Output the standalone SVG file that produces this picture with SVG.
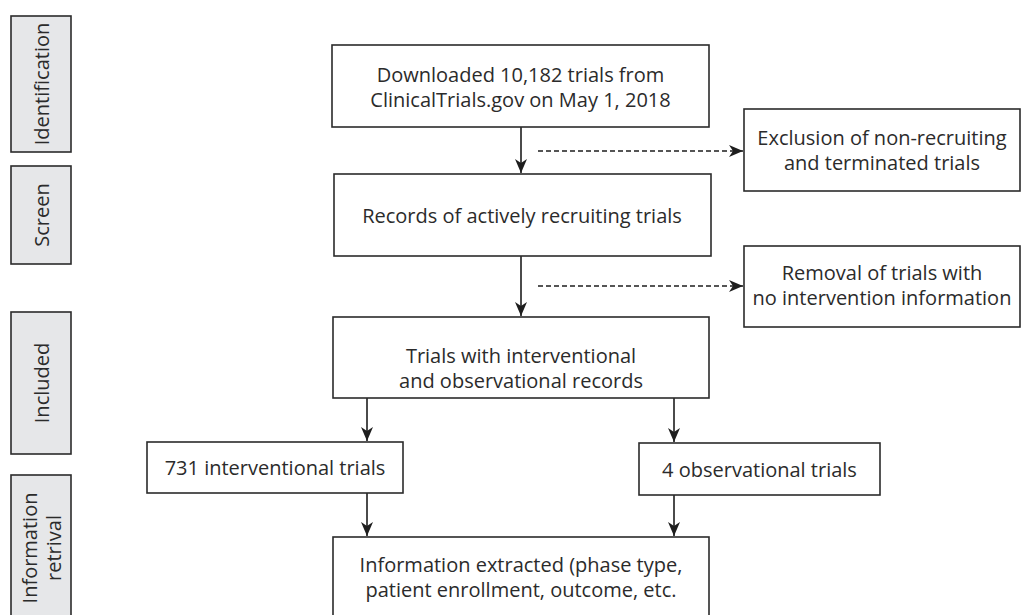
<svg xmlns="http://www.w3.org/2000/svg" width="1033" height="615" viewBox="0 0 1033 615">
<style>
.box{fill:#ffffff;stroke:#2b2b2b;stroke-width:1.6}
.side{fill:#e6e7e9;stroke:#2b2b2b;stroke-width:1.6}
.t{font-family:"Open Sans","Noto Sans",sans-serif;font-size:20px;fill:#2b2b2b;text-anchor:middle}
.s{font-family:"Open Sans","Noto Sans",sans-serif;font-size:20px;fill:#2b2b2b;text-anchor:middle}
.ln{stroke:#1e1e1e;stroke-width:1.6;fill:none;marker-end:url(#ah)}
.dl{stroke:#1e1e1e;stroke-width:1.4;fill:none;stroke-dasharray:5 3;marker-end:url(#ah)}
</style>
<defs>
<marker id="ah" viewBox="0 0 14 12" refX="14" refY="6" markerWidth="14" markerHeight="12" markerUnits="userSpaceOnUse" orient="auto">
<path d="M0,0 L14,6 L0,12 L4,6 z" fill="#1e1e1e"/>
</marker>
</defs>
<g id="side-identification"><rect class="side" x="11" y="16" width="60" height="136"/><text class="s" transform="translate(49,84) rotate(-90)">Identification</text></g>
<g id="side-screen"><rect class="side" x="11" y="166" width="60" height="98"/><text class="s" transform="translate(49,215) rotate(-90)">Screen</text></g>
<g id="side-retrieval-included"><rect class="side" x="11" y="312" width="60" height="142"/><text class="s" transform="translate(49,383) rotate(-90)">Included</text></g>
<g id="side-retrieval"><rect class="side" x="11" y="475" width="60" height="150"/><text class="s" transform="translate(37,548) rotate(-90)"><tspan x="0" dy="0">Information</tspan><tspan x="0" dy="24">retrival</tspan></text></g>

<g id="connectors">
<line class="ln" x1="521" y1="127" x2="521" y2="173"/>
<line class="dl" x1="538" y1="151" x2="743" y2="151"/>
<line class="ln" x1="521" y1="256" x2="521" y2="316"/>
<line class="dl" x1="538" y1="286" x2="743" y2="286"/>
<line class="ln" x1="367" y1="398" x2="367" y2="441"/>
<line class="ln" x1="674" y1="398" x2="674" y2="442"/>
<line class="ln" x1="367" y1="493" x2="367" y2="536"/>
<line class="ln" x1="674" y1="495" x2="674" y2="536"/>
</g>

<g id="n-downloaded"><rect class="box" x="332" y="45" width="377" height="82"/><text class="t" x="520.5" y="82">Downloaded 10,182 trials from</text><text class="t" x="520.5" y="107">ClinicalTrials.gov on May 1, 2018</text></g>
<g id="n-exclusion"><rect class="box" x="744" y="109" width="276" height="82"/><text class="t" x="882" y="145">Exclusion of non-recruiting</text><text class="t" x="882" y="170">and terminated trials</text></g>
<g id="n-records"><rect class="box" x="334" y="174" width="377" height="82"/><text class="t" x="522" y="223">Records of actively recruiting trials</text></g>
<g id="n-removal"><rect class="box" x="744" y="246" width="276" height="81"/><text class="t" x="882" y="280">Removal of trials with</text><text class="t" x="882" y="305">no intervention information</text></g>
<g id="n-trials"><rect class="box" x="333" y="317" width="376" height="81"/><text class="t" x="521" y="363">Trials with interventional</text><text class="t" x="521" y="388">and observational records</text></g>
<g id="n-731"><rect class="box" x="147" y="442" width="256" height="51"/><text class="t" x="275" y="475">731 interventional trials</text></g>
<g id="n-4obs"><rect class="box" x="639" y="443" width="241" height="52"/><text class="t" x="759.5" y="477">4 observational trials</text></g>
<g id="n-info"><rect class="box" x="333" y="537" width="376" height="90"/><text class="t" x="521" y="572">Information extracted (phase type,</text><text class="t" x="521" y="597">patient enrollment, outcome, etc.</text></g>
</svg>
